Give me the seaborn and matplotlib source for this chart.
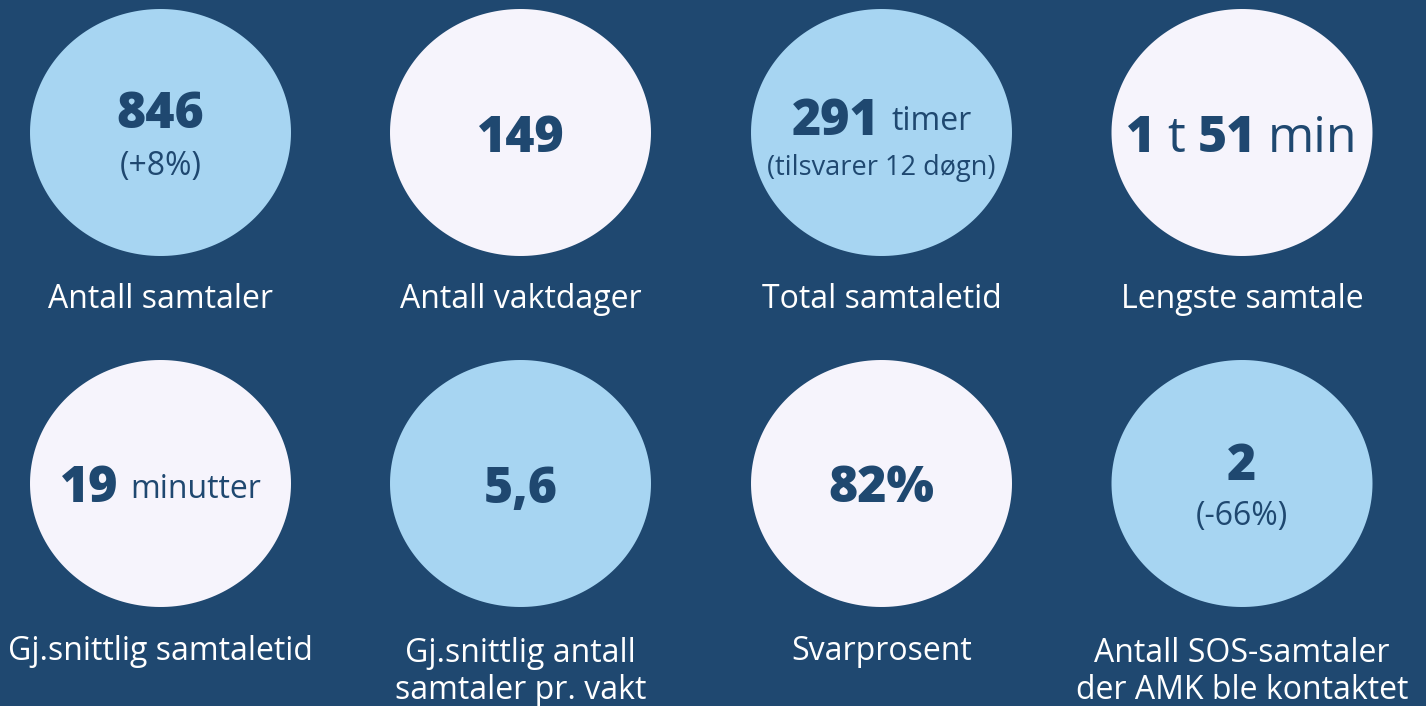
import numpy as np
import pandas as pd
import matplotlib.pyplot as plt
from matplotlib.path import Path
import seaborn as sns

# Data
labels = ["Antall samtaler", "Antall vaktdager", "Total samtaletid", "Lengste samtale",
          "Gj.snittlig samtaletid", "Gj.snittlig antall\nsamtaler pr. vakt",
          "Svarprosent", "Antall SOS-samtaler\nder AMK ble kontaktet"]
# each headline is a list of (text, bold?) pieces
headlines = [[("846", True)],
             [("149", True)],
             [("291", True), ("timer", False)],
             [("1", True), ("t", False), ("51", True), ("min", False)],
             [("19", True), ("minutter", False)],
             [("5,6", True)],
             [("82%", True)],
             [("2", True)]]
notes = ["(+8%)", "", "(tilsvarer 12 døgn)", "", "", "", "", "(-66%)"]
fills = ["light", "white", "light", "white", "white", "light", "white", "light"]

BG = "#1f4870"
LIGHT = "#a7d5f2"
WHITE = "#f6f4fc"
DARK = "#1f4870"

W, H = 1426, 706
col_x = [160.5, 520.5, 881.5, 1242]
row_y = [132.5, 483.5]
ell_w, ell_h = 261, 247

df = pd.DataFrame({
    "x": [col_x[i % 4] for i in range(8)],
    "y": [row_y[i // 4] for i in range(8)],
    "fill": fills,
})

sns.set_theme(style="white")
plt.rcParams["font.family"] = ["Open Sans", "DejaVu Sans"]

fig = plt.figure(figsize=(W / 100, H / 100), dpi=100, facecolor=BG)
ax = fig.add_axes([0, 0, 1, 1])
ax.set_facecolor(BG)
ax.set_xlim(0, W)
ax.set_ylim(H, 0)
ax.axis("off")

# slightly flattened circle marker
t = np.linspace(0, 2 * np.pi, 200)
ell = Path(np.column_stack([np.cos(t), np.sin(t) * ell_h / ell_w]), closed=True)
diam_pt = ell_w * 72 / 100
sns.scatterplot(data=df, x="x", y="y", hue="fill", palette={"light": LIGHT, "white": WHITE},
                s=diam_pt ** 2, marker=ell, linewidth=0, legend=False, ax=ax)

renderer = fig.canvas.get_renderer()


def draw_line(pieces, cx, baseline):
    # place mixed-weight pieces on one baseline, centred on cx
    arts = []
    big_units = len(pieces) == 4
    for txt, bold in pieces:
        if bold:
            a = ax.text(0, baseline, txt, fontsize=36, fontweight="heavy", color=DARK, va="baseline")
        elif big_units:
            a = ax.text(0, baseline, txt, fontsize=36, color=DARK, va="baseline")
        else:
            a = ax.text(0, baseline - 5, txt, fontsize=23, color=DARK, va="baseline")
        arts.append(a)
    widths = [a.get_window_extent(renderer).width for a in arts]
    gap = 12
    total = sum(widths) + gap * (len(arts) - 1)
    x = cx - total / 2
    for a, w in zip(arts, widths):
        a.set_x(x)
        x += w + gap


for i in range(8):
    cx = df["x"][i]
    cy = df["y"][i]
    if notes[i]:
        if len(headlines[i]) == 1:
            draw_line(headlines[i], cx, cy - 4)
            ax.text(cx, cy + 42, notes[i], fontsize=23, color=DARK, ha="center", va="baseline")
        else:
            draw_line(headlines[i], cx, cy + 2.5)
            ax.text(cx, cy + 42, notes[i], fontsize=19.5, color=DARK, ha="center", va="baseline")
    else:
        draw_line(headlines[i], cx, cy + 19)
    lines = labels[i].split("\n")
    base = 308 if i < 4 else (660 if len(lines) == 1 else 662)
    for k, line in enumerate(lines):
        ax.text(cx, base + 37 * k, line, fontsize=23, color="white", ha="center", va="baseline")

fig.savefig("out.png", dpi=100, facecolor=BG)
